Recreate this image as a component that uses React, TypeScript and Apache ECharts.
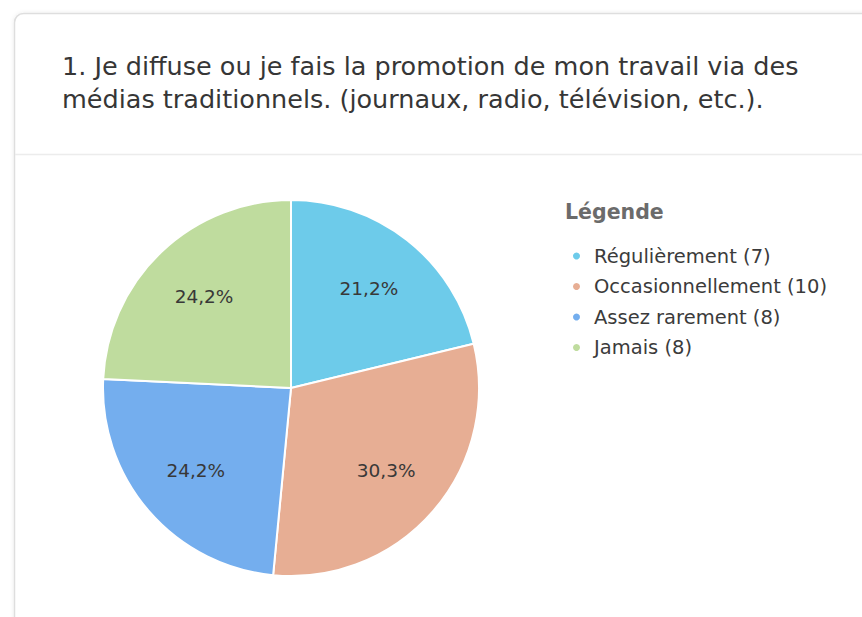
import React, { useEffect, useRef } from "react";
import * as echarts from "echarts";

const categories = ["Régulièrement", "Occasionnellement", "Assez rarement", "Jamais"];
const counts = [7, 10, 8, 8];
const colors = ["#6DCBEA", "#E7AE94", "#74AEEE", "#BFDC9E"];
const titleLines = [
  "1. Je diffuse ou je fais la promotion de mon travail via des",
  "médias traditionnels. (journaux, radio, télévision, etc.).",
];
const legendTitle = "Légende";

const FONT = "'DejaVu Sans', 'Noto Sans', sans-serif";

export default function App() {
  const ref = useRef<HTMLDivElement>(null);
  useEffect(() => {
    if (!ref.current) return;
    const chart = echarts.init(ref.current, undefined, { renderer: "svg" });
    const data = categories.map((name, i) => ({
      name,
      value: counts[i],
      itemStyle: { color: colors[i] },
    }));
    const legendLabel: Record<string, string> = {};
    categories.forEach((c, i) => (legendLabel[c] = `${c} (${counts[i]})`));
    chart.setOption({
      animation: false,
      backgroundColor: "#ffffff",
      graphic: [
        {
          type: "rect",
          shape: { x: 14.5, y: 13.5, width: 900, height: 700, r: 9 },
          style: {
            fill: "#ffffff",
            stroke: "#dedede",
            lineWidth: 1.5,
            shadowBlur: 4,
            shadowColor: "rgba(0,0,0,0.08)",
          },
          z: -10,
        },
        {
          type: "line",
          shape: { x1: 15, y1: 154.5, x2: 862, y2: 154.5 },
          style: { stroke: "#ececec", lineWidth: 1.5 },
        },
        ...titleLines.map((t, i) => ({
          type: "text",
          x: 62,
          y: 66 + i * 33.4,
          style: {
            text: t,
            font: `25.5px ${FONT}`,
            fill: "#363636",
            verticalAlign: "middle",
          },
        })),
        {
          type: "text",
          x: 565,
          y: 212,
          style: {
            text: legendTitle,
            font: `bold 20.5px ${FONT}`,
            fill: "#6b6b6b",
            verticalAlign: "middle",
          },
        },
      ],
      legend: {
        orient: "vertical",
        left: 566,
        top: 241,
        itemGap: 10.5,
        icon: "circle",
        itemWidth: 9,
        itemHeight: 9,
        data: categories,
        selectedMode: false,
        formatter: (name: string) => legendLabel[name],
        textStyle: {
          fontFamily: FONT,
          fontSize: 19.5,
          color: "#3b3b3b",
          lineHeight: 20,
          padding: [0, 0, 0, 8],
        },
      },
      series: [
        {
          type: "pie",
          center: [291, 388],
          radius: 188,
          startAngle: 90,
          clockwise: true,
          silent: true,
          label: { show: false },
          labelLine: { show: false },
          itemStyle: { borderColor: "#ffffff", borderWidth: 2 },
          data,
        },
        {
          type: "pie",
          center: [291, 388],
          radius: 246,
          startAngle: 90,
          clockwise: true,
          silent: true,
          itemStyle: { color: "transparent", borderWidth: 0 },
          label: {
            show: true,
            position: "inside",
            fontFamily: FONT,
            fontSize: 18.5,
            color: "#383838",
            formatter: (p: any) => p.percent.toFixed(1).replace(".", ",") + "%",
          },
          labelLine: { show: false },
          data: categories.map((name, i) => ({ name, value: counts[i] })),
        },
      ],
    });
    return () => chart.dispose();
  }, []);
  return (
    <div
      ref={ref}
      style={{ position: "fixed", left: 0, top: 0, width: 862, height: 617 }}
    />
  );
}
